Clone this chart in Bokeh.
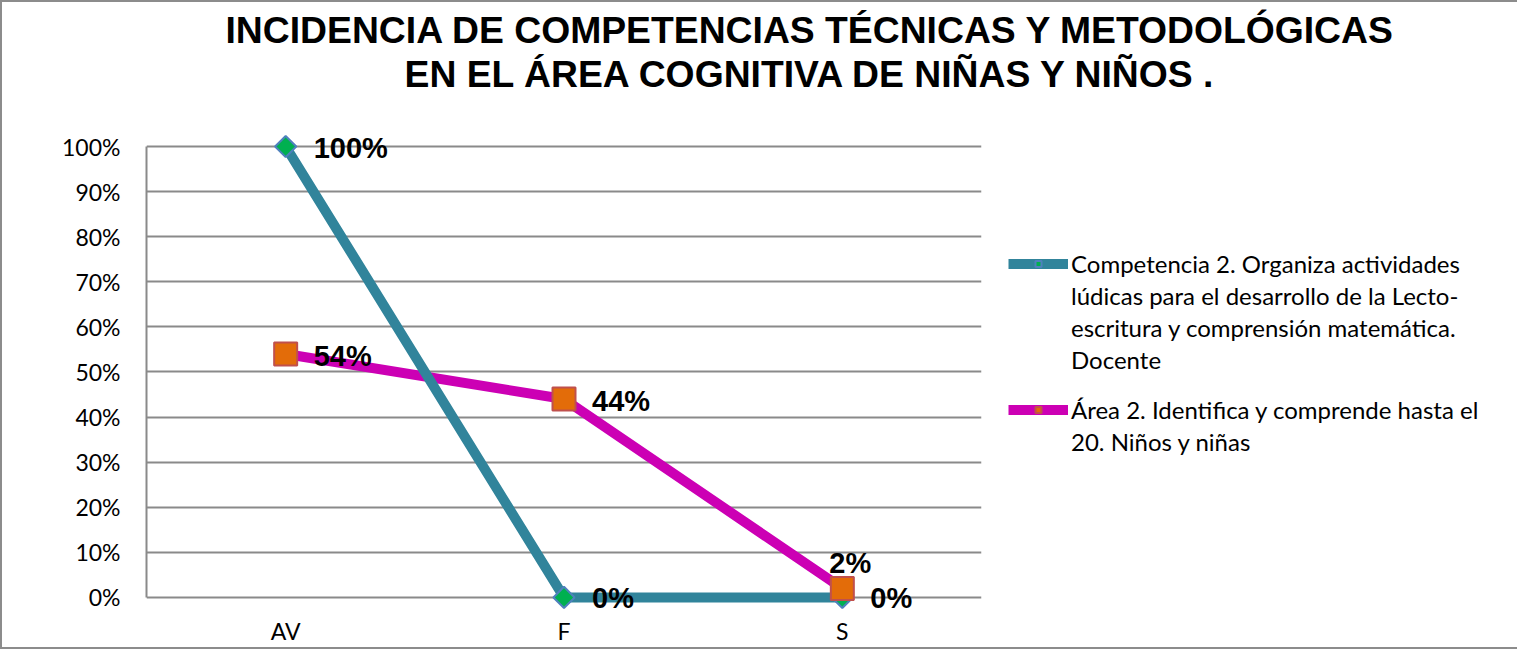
import math
from bokeh.plotting import figure
from bokeh.models import (ColumnDataSource, FactorRange, Legend, LegendItem, Title,
                          NumeralTickFormatter, FixedTicker, Range1d)
from bokeh.core.properties import value
from bokeh.embed import file_html
from bokeh.resources import INLINE

# ---- data ----
categories = ["AV", "F", "S"]
competencia = [1.00, 0.00, 0.00]
area = [0.54, 0.44, 0.02]
competencia_labels = ["100%", "0%", "0%"]
area_labels = ["54%", "44%", "2%"]
y_ticks = [0, 0.1, 0.2, 0.3, 0.4, 0.5, 0.6, 0.7, 0.8, 0.9, 1.0]
title_line1 = "INCIDENCIA DE COMPETENCIAS TÉCNICAS Y METODOLÓGICAS"
title_line2 = "EN EL ÁREA COGNITIVA DE NIÑAS Y NIÑOS ."
legend_1_lines = ["Competencia 2. Organiza actividades",
                  "lúdicas para el desarrollo de la Lecto-",
                  "escritura y comprensión matemática.",
                  "Docente"]
legend_2_lines = ["Área 2. Identifica y comprende hasta el",
                  "20. Niños y niñas"]

TEAL = "#31849B"
MAGENTA = "#CC00B4"
GRID = "#8A8A8A"
LABEL_FONT = "Lato"
BOLD_FONT = "Liberation Sans"

p = figure(x_range=FactorRange(*categories), y_range=Range1d(-0.029, 1.04), title=None,
           frame_width=835, frame_height=482, output_backend="svg", toolbar_location=None,
           min_border_left=144, min_border_top=126, min_border_bottom=20, min_border_right=20)
p.styles = {"border": "2px solid #8C8C8C"}
p.outline_line_color = None
p.background_fill_color = "white"
p.border_fill_color = "white"

src1 = ColumnDataSource(dict(x=categories, y=competencia, lab=competencia_labels))
src2 = ColumnDataSource(dict(x=categories, y=area, lab=area_labels))

# lines (magenta under teal), then markers (teal under orange)
l2 = p.line("x", "y", source=src2, line_color=MAGENTA, line_width=10)
l1 = p.line("x", "y", source=src1, line_color=TEAL, line_width=10)
m1 = p.scatter("x", "y", source=src1, marker="square", angle=math.pi / 4, size=15,
               fill_color="#00B050", line_color="#4F81BD", line_width=2)
m2 = p.scatter("x", "y", source=src2, marker="square", size=23,
               fill_color="#E36C09", line_color="#C0504D", line_width=2)
dummy = p.line(x=[], y=[], line_alpha=0)

# data labels
lab_style = dict(text_font=value(BOLD_FONT), text_font_style="bold", text_font_size="29px",
                 text_align="left", text_baseline="middle", text_color="black")
p.text("x", "y", text="lab", source=src1, x_offset=28, y_offset=1, **lab_style)
src2a = ColumnDataSource(dict(x=categories[:2], y=area[:2], lab=area_labels[:2]))
src2b = ColumnDataSource(dict(x=categories[2:], y=area[2:], lab=area_labels[2:]))
p.text("x", "y", text="lab", source=src2a, x_offset=28, y_offset=2, **lab_style)
p.text("x", "y", text="lab", source=src2b, x_offset=-13, y_offset=-25, **lab_style)

# axes
p.yaxis.ticker = FixedTicker(ticks=y_ticks)
p.yaxis.formatter = NumeralTickFormatter(format="0%")
p.yaxis.bounds = (0, 1)
for ax in (p.xaxis[0], p.yaxis[0]):
    ax.axis_line_color = GRID
    ax.axis_line_width = 2
    ax.major_tick_line_color = None
    ax.minor_tick_line_color = None
    ax.major_label_text_font = LABEL_FONT
    ax.major_label_text_font_size = "23px"
    ax.major_label_text_color = "black"
p.xaxis.axis_line_color = None   # the 0% grid line acts as the category axis line
p.yaxis.major_label_standoff = 20
p.xaxis.major_label_standoff = 0
p.xgrid.grid_line_color = None
p.ygrid.grid_line_color = GRID
p.ygrid.grid_line_width = 2

# title: spacer + two lines stacked above the frame
spacer = Title(text=" ", text_font_size="10px", standoff=21)
t2 = Title(text=title_line2, align="left", offset=258, standoff=0,
           text_font=BOLD_FONT, text_font_style="bold", text_font_size="37.3px", text_color="black")
t1 = Title(text=title_line1, align="left", offset=79, standoff=0,
           text_font=BOLD_FONT, text_font_style="bold", text_font_size="37.3px", text_color="black")
p.add_layout(spacer, "above")
p.add_layout(t2, "above")
p.add_layout(t1, "above")

# legend: one row per text line, glyph only on the first line of each entry
items = [LegendItem(label=legend_1_lines[0], renderers=[l1, m1])]
items += [LegendItem(label=t, renderers=[dummy]) for t in legend_1_lines[1:]]
items += [LegendItem(label="", renderers=[dummy])]
items += [LegendItem(label=legend_2_lines[0], renderers=[l2, m2])]
items += [LegendItem(label=t, renderers=[dummy]) for t in legend_2_lines[1:]]
lg = Legend(items=items, location="top_left", orientation="vertical")
lg.title = " "
lg.title_text_font_size = "10px"
lg.title_standoff = 83
lg.glyph_width = 60
lg.glyph_height = 15
lg.label_height = 15
lg.label_text_font = LABEL_FONT
lg.label_text_font_size = "24px"
lg.label_text_color = "black"
lg.label_standoff = 3
lg.spacing = 3
lg.padding = 0
lg.margin = 27
lg.border_line_color = None
lg.background_fill_alpha = 0
p.add_layout(lg, "right")

open("out.html", "w").write(file_html(p, INLINE))
